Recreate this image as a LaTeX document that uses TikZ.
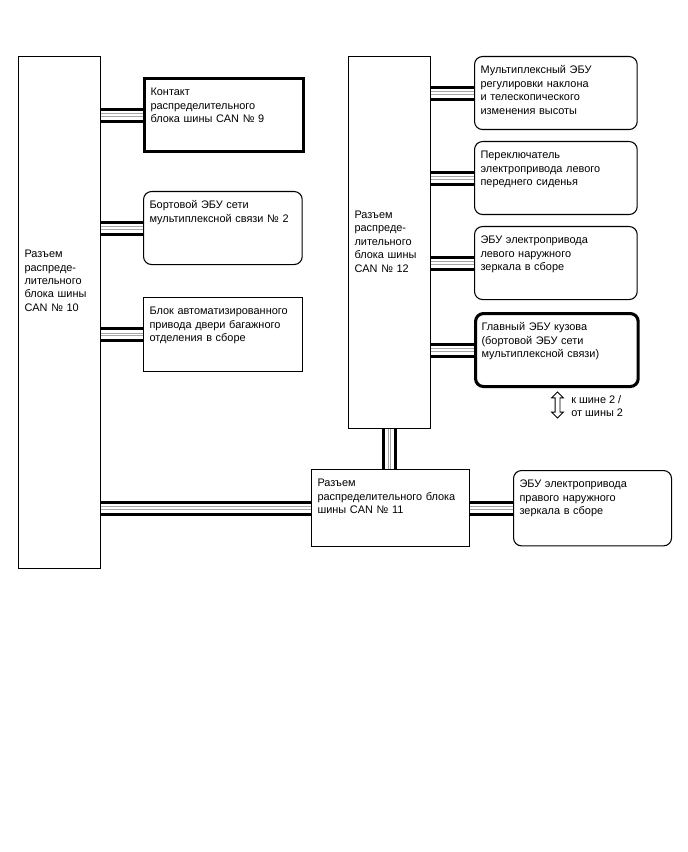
\documentclass[tikz,border=0pt]{standalone}
\usepackage{fontspec}
\setmainfont{Liberation Sans}
\usepackage{tikz}
\usetikzlibrary{shapes.arrows}

\begin{document}
\begin{tikzpicture}[
    x=0.75pt, y=-0.75pt,
    every node/.style={font=\fontsize{8.2}{10.1}\selectfont},
    box/.style={draw, fill=white, line width=0.8pt, anchor=north west,
                align=left, inner xsep=4.5pt, inner ysep=3pt,
                text height=10pt, text depth=38.75pt},
    ecu/.style={box, rounded corners=6pt},
    heavy/.style={line width=2.3pt},
    jblock/.style={box, text width=52.5pt},
    bus/.style={draw=black, line width=11.25pt,
                postaction={draw=white, line width=6.75pt},
                postaction={draw=gray!70, line width=2.8pt},
                postaction={draw=white, line width=1.2pt}}
]
\useasboundingbox (0,0) rectangle (688,852);

% junction blocks
\node (can10) [jblock, text height=147.75pt, text depth=230.25pt] at (18,56)
    {Разъем\\распреде-\\лительного\\блока шины\\CAN № 10};
\node (can12) [jblock, text height=118.5pt, text depth=154.5pt] at (348,56)
    {Разъем\\распреде-\\лительного\\блока шины\\CAN № 12};
\node (can11) [box, text width=109.5pt, text depth=41.75pt] at (311,469)
    {Разъем\\распределительного блока\\шины CAN № 11};

% left side units
\node (can9) [box, heavy, text width=110pt] at (143,77)
    {Контакт\\распределительного\\блока шины CAN № 9};
\node (mpx2) [ecu, text width=110pt] at (143,191)
    {Бортовой ЭБУ сети\\мультиплексной связи № 2};
\node (door) [box, text width=110pt, text depth=39.5pt] at (143,297)
    {Блок автоматизированного\\привода двери багажного\\отделения в сборе};

% right side units
\node (tilt) [ecu, text width=113pt] at (474,56)
    {Мультиплексный ЭБУ\\регулировки наклона\\и телескопического\\изменения высоты};
\node (seat) [ecu, text width=113pt] at (474,141)
    {Переключатель\\электропривода левого\\переднего сиденья};
\node (lmirror) [ecu, text width=113pt] at (474,226)
    {ЭБУ электропривода\\левого наружного\\зеркала в сборе};
\node (body) [ecu, heavy, text width=113pt] at (474,312)
    {Главный ЭБУ кузова\\(бортовой ЭБУ сети\\мультиплексной связи)};
\node (rmirror) [ecu, text width=109.5pt, text depth=40.5pt] at (513,470)
    {ЭБУ электропривода\\правого наружного\\зеркала в сборе};

% bus 2 note
\node (bus2) [double arrow, draw, line width=0.6pt, rotate=90, inner sep=1.5pt,
    minimum height=19.5pt, double arrow head extend=2.6pt] at (557.5,405) {};
\node (bus2txt) [anchor=west, align=left, inner sep=0pt] at (571,406)
    {к шине 2 /\\от шины 2};

% bus lines
\draw [bus] (can9.west) -- (can9.west -| can10.east);
\draw [bus] (mpx2.west) -- (mpx2.west -| can10.east);
\draw [bus] (door.west) -- (door.west -| can10.east);
\draw [bus] (can11.west) -- (can11.west -| can10.east);
\draw [bus] (tilt.west) -- (tilt.west -| can12.east);
\draw [bus] (seat.west) -- (seat.west -| can12.east);
\draw [bus] (lmirror.west) -- (lmirror.west -| can12.east);
\draw [bus] (body.west) -- (body.west -| can12.east);
\draw [bus] (can12.south) -- (can12.south |- can11.north);
\draw [bus] (can11.east) -- (can11.east -| rmirror.west);
\end{tikzpicture}
\end{document}
